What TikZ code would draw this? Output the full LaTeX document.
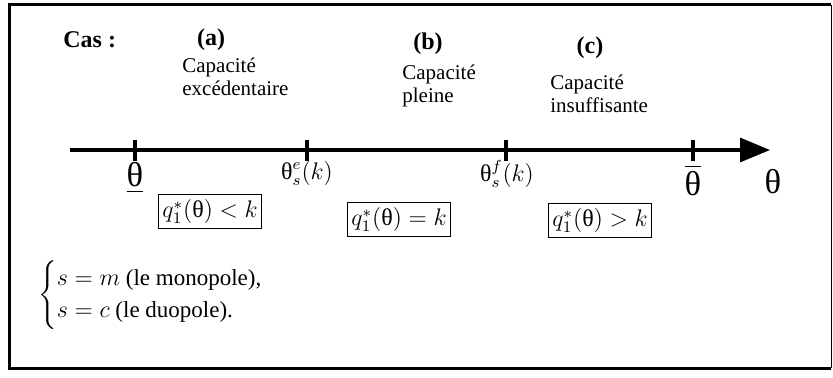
\documentclass[tikz,border=0pt]{standalone}
\usepackage{amsmath,amssymb}
\usepackage{fontspec}
\setmainfont{Liberation Serif}
\usepackage{tikz}
\usetikzlibrary{positioning,arrows.meta,calc}
\newcommand{\uth}{\text{θ}}
\tikzset{
  frameline/.style={line width=1.5pt, black},
  axisline/.style={-{Triangle[length=15pt,width=12pt]}, line width=1.6pt},
  tickline/.style={line width=1.6pt},
  casetitle/.style={font=\large\bfseries, inner sep=0pt},
  casetext/.style={align=left, anchor=west, inner sep=0pt,
    font=\fontsize{10.5}{11.5}\selectfont},
  ticklabel/.style={font=\large, inner sep=0pt},
  condbox/.style={draw, line width=0.5pt, inner xsep=2pt, inner ysep=2.5pt, font=\large}
}

\begin{document}
\begin{tikzpicture}[x=0.5pt,y=-0.5pt]
\useasboundingbox (0,0) rectangle (833,378);
% frame
\draw[frameline] (831,5) -- (9,5) -- (9,368) -- (831,368);
\draw[line width=0.5pt] (831,5) -- (831,368);

% titles
\node[casetitle, anchor=west] (cas) at (63,40) {Cas :};
\node[casetitle] (ca) at (211,40) {(a)};
\node[casetitle] (cb) at (428,44) {(b)};
\node[casetitle] (cc) at (590,48) {(c)};

\node[casetext] (ta) at (182,77) {Capacité\\excédentaire};
\node[casetext] (tb) at (402,86) {Capacité\\pleine};
\node[casetext] (tc) at (550,94) {Capacité\\insuffisante};

% axis
\coordinate (a0) at (70,150);
\coordinate (a1) at (770,150);
\draw[axisline] (a0) -- (a1);
\foreach \x/\n in {135/t1, 307/t2, 506/t3, 693/t4}{
  \coordinate (\n) at (\x,150);
  \draw[tickline] ($(\n)+(0,-10)$) -- ($(\n)+(0,11)$);
}

% tick labels
\node[font=\LARGE, inner sep=0pt] (lmin) at (135,178) {\underline{θ}};
\node[ticklabel] (le) at (307,174) {$\uth_s^e(k)$};
\node[ticklabel] (lf) at (507,174) {$\uth_s^f(k)$};
\node[font=\LARGE, inner sep=0pt] (lmax) at (693,180) {$\overline{\uth}$};
\node[font=\LARGE, inner sep=0pt] (lth) at (773,182) {θ};

% conditions
\node[condbox] (qa) at (210,212) {$q_1^{*}(\uth) < k$};
\node[condbox] (qb) at (399,220) {$q_1^{*}(\uth) = k$};
\node[condbox] (qc) at (600,221) {$q_1^{*}(\uth) > k$};

% legend
\node[anchor=west, inner sep=0pt, font=\fontsize{11.5}{13.5}\selectfont] (leg) at (38,295)
  {$\begin{cases}s = m\text{ (le monopole),}\\ s = c\text{ (le duopole).}\end{cases}$};
\end{tikzpicture}
\end{document}
